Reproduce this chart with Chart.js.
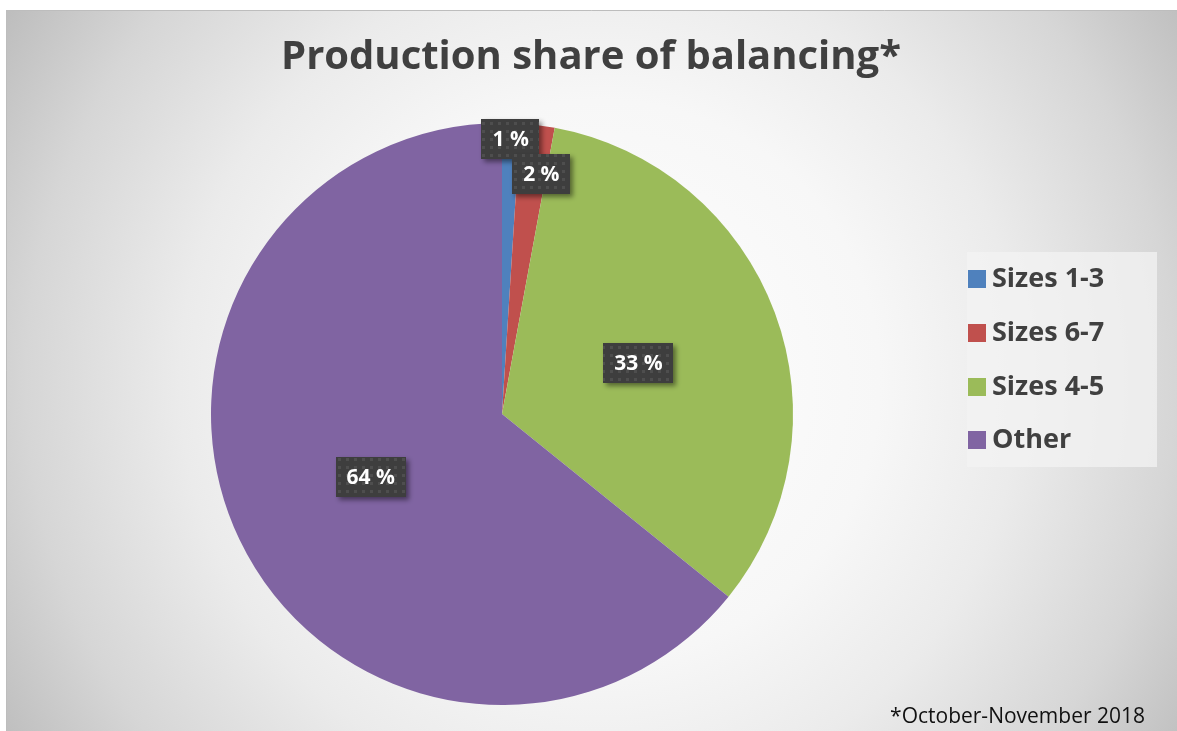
<!DOCTYPE html>
<html>
<head>
<meta charset="utf-8">
<title>Production share of balancing</title>
<script src="https://cdn.jsdelivr.net/npm/chart.js@4"></script>
<style>
  html, body { margin: 0; padding: 0; background: #fff; }
  canvas { display: block; }
</style>
</head>
<body>
<canvas id="myChart" width="1177" height="731"></canvas>
<script>
// data
const categories = ['Sizes 1-3', 'Sizes 6-7', 'Sizes 4-5', 'Other'];
const shares = [1.0, 1.9, 32.9, 64.2];
const sliceColors = ['#4F81BD', '#C0504D', '#9BBB59', '#8064A2'];
const chartTitle = 'Production share of balancing*';
const footnote = '*October-November 2018';

// where each data label sits, as fraction of radius along the slice middle (+ small angle nudge in degrees)
const labelPlace = [
  { r: 0.945, da: 0 },
  { r: 0.835, da: 2.3 },
  { r: 0.5, da: 0 },
  { r: 0.5, da: 0 }
];

const FONT = '"Open Sans", "Noto Sans", Lato, sans-serif';
const TEXT = '#404040';

// dotted texture like the Excel label boxes
function dotPattern(ctx) {
  const tile = document.createElement('canvas');
  tile.width = 8; tile.height = 8;
  const t = tile.getContext('2d');
  t.fillStyle = '#3e3e3e';
  t.fillRect(0, 0, 8, 8);
  t.fillStyle = '#4e4e4e';
  t.fillRect(2, 2, 3, 3);
  return ctx.createPattern(tile, 'repeat');
}

const backgroundPlugin = {
  id: 'background',
  beforeDraw(chart) {
    const ctx = chart.ctx;
    const w = chart.width, h = chart.height;
    ctx.save();
    ctx.fillStyle = '#ffffff';
    ctx.fillRect(0, 0, w, h);
    const g = ctx.createRadialGradient(600, 380, 0, 600, 380, 700);
    g.addColorStop(0, '#ffffff');
    g.addColorStop(0.4, '#f7f7f7');
    g.addColorStop(0.6, '#ebebeb');
    g.addColorStop(0.82, '#d6d6d6');
    g.addColorStop(1, '#bdbdbd');
    ctx.fillStyle = g;
    ctx.fillRect(6, 10, w - 6, h - 10);
    ctx.strokeStyle = '#bdbdbd';
    ctx.lineWidth = 1;
    ctx.beginPath();
    ctx.moveTo(6.5, h);
    ctx.lineTo(6.5, 10.5);
    ctx.lineTo(w, 10.5);
    ctx.stroke();

    // title, centred on the whole frame
    ctx.font = 'bold 40px ' + FONT;
    ctx.fillStyle = TEXT;
    ctx.textAlign = 'center';
    ctx.textBaseline = 'alphabetic';
    ctx.fillText(chartTitle, 591, 69);
    ctx.restore();
  }
};

const labelsPlugin = {
  id: 'sliceLabels',
  afterDatasetsDraw(chart) {
    const ctx = chart.ctx;
    const arcs = chart.getDatasetMeta(0).data;
    const values = chart.data.datasets[0].data;
    const fill = dotPattern(ctx);
    ctx.save();
    ctx.font = 'bold 21px ' + FONT;
    ctx.textAlign = 'center';
    ctx.textBaseline = 'middle';
    arcs.forEach((arc, i) => {
      const p = arc.getProps(['x', 'y', 'startAngle', 'endAngle', 'outerRadius'], true);
      const place = labelPlace[i];
      const mid = (p.startAngle + p.endAngle) / 2 + place.da * Math.PI / 180;
      const cx = p.x + Math.cos(mid) * p.outerRadius * place.r;
      const cy = p.y + Math.sin(mid) * p.outerRadius * place.r;
      const txt = Math.round(values[i]) + ' %';
      const bw = ctx.measureText(txt).width + 22;
      const bh = 40;
      ctx.save();
      ctx.shadowColor = 'rgba(0,0,0,0.45)';
      ctx.shadowBlur = 5;
      ctx.shadowOffsetX = 3;
      ctx.shadowOffsetY = 3;
      ctx.fillStyle = fill;
      ctx.fillRect(Math.round(cx - bw / 2), Math.round(cy - bh / 2), Math.round(bw), bh);
      ctx.restore();
      ctx.fillStyle = '#ffffff';
      ctx.fillText(txt, cx, cy + 1);
    });
    ctx.restore();
  }
};

const legendPlugin = {
  id: 'sideLegend',
  afterDraw(chart) {
    const ctx = chart.ctx;
    const labels = chart.data.labels;
    const colors = chart.data.datasets[0].backgroundColor;
    ctx.save();
    ctx.fillStyle = 'rgba(243,243,243,0.75)';
    ctx.fillRect(967, 252, 190, 215);
    ctx.font = 'bold 27px ' + FONT;
    ctx.textBaseline = 'alphabetic';
    ctx.textAlign = 'left';
    labels.forEach((lab, i) => {
      const y = 279 + i * 53.8;
      ctx.fillStyle = colors[i];
      ctx.fillRect(968, Math.round(y - 9), 18, 18);
      ctx.fillStyle = TEXT;
      ctx.fillText(lab, 992, Math.round(y + 8));
    });
    ctx.font = '21px ' + FONT;
    ctx.fillStyle = '#111111';
    ctx.textAlign = 'right';
    ctx.fillText(footnote, 1145, 723);
    ctx.restore();
  }
};

const ctx = document.getElementById('myChart').getContext('2d');
const myChart = new Chart(ctx, {
  type: 'pie',
  data: {
    labels: categories,
    datasets: [{
      data: shares,
      backgroundColor: sliceColors,
      borderWidth: 0
    }]
  },
  options: {
    responsive: false,
    animation: false,
    layout: {
      padding: { top: 123, left: 211, right: 384, bottom: 26 }
    },
    plugins: {
      legend: { display: false },
      tooltip: { enabled: false },
      title: { display: false }
    }
  },
  plugins: [backgroundPlugin, labelsPlugin, legendPlugin]
});
</script>
</body>
</html>
